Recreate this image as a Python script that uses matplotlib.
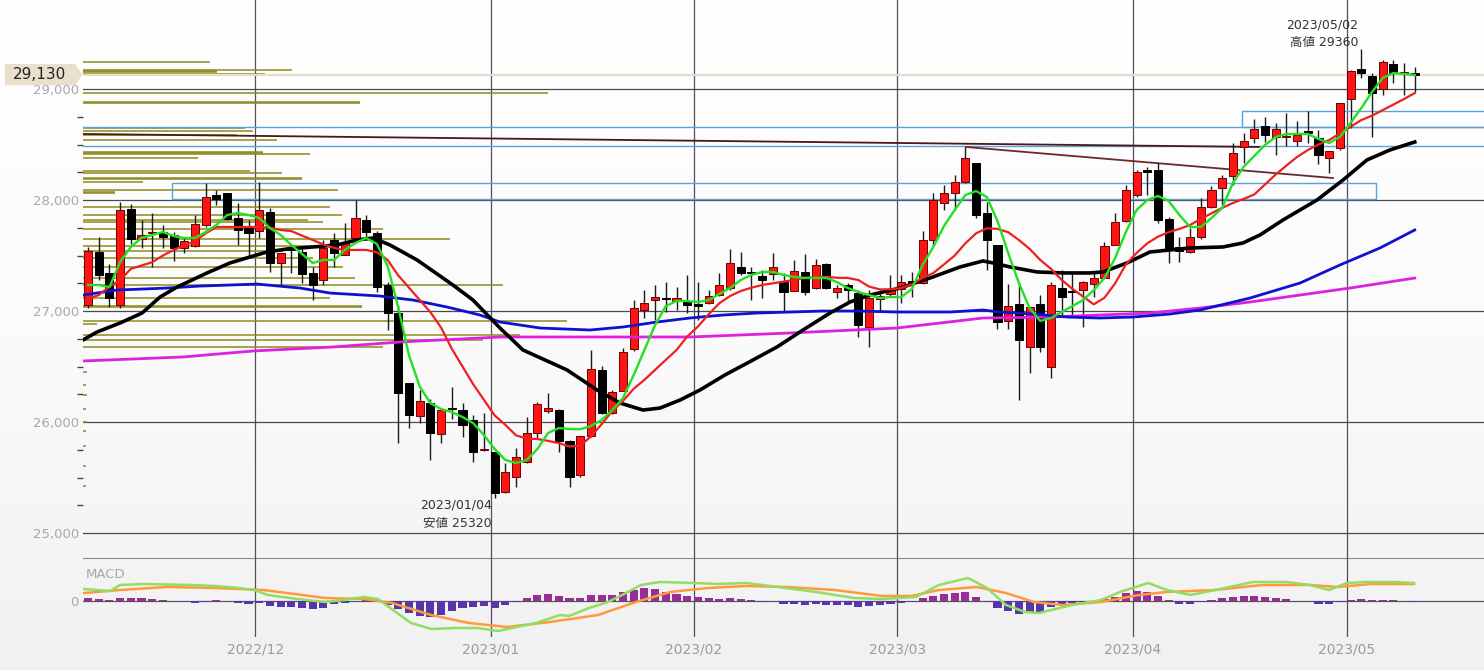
import numpy as np
import matplotlib.pyplot as plt
from matplotlib.patches import Rectangle, Polygon
from matplotlib.colors import LinearSegmentedColormap

# daily candles, 2022/11/08 .. 2023/05/12 (index = trading day)
opens = [27054, 27534, 27345, 27054, 27919, 27649, 27703, 27712, 27685, 27568,
         27586, 27775, 28045, 28063, 27838, 27748, 27721, 27892, 27432, 27568,
         27532, 27342, 27279, 27640, 27505, 27658, 27820, 27703, 27234, 26982,
         26351, 26054, 26171, 25892, 26126, 26108, 26018, 25748, 25730, 25369,
         25505, 25640, 25901, 26099, 26108, 25829, 25523, 25874, 26468, 26081,
         26279, 26658, 27009, 27099, 27117, 27090, 27081, 27063, 27072, 27144,
         27207, 27396, 27351, 27315, 27333, 27261, 27180, 27351, 27207, 27423,
         27171, 27234, 27162, 26856, 27108, 27153, 27198, 27270, 27252, 27640,
         27973, 28063, 28162, 28333, 27883, 27595, 26910, 27063, 26676, 27063,
         26495, 27207, 27180, 27189, 27243, 27297, 27595, 27811, 28045, 28270,
         28270, 27829, 27577, 27532, 27667, 27937, 28108, 28216, 28477, 28558,
         28667, 28568, 28568, 28531, 28622, 28559, 28378, 28468, 28910, 29180,
         29117, 29000, 29225, 29144, 29144]
highs = [27577, 27667, 27423, 27982, 27964, 27820, 27883, 27775, 27712, 27658,
         27865, 28153, 28090, 28063, 27973, 27820, 28160, 27928, 27523, 27586,
         27568, 27396, 27640, 27703, 27793, 28000, 27865, 27720, 27260, 27054,
         26351, 26288, 26207, 26126, 26315, 26171, 26063, 26081, 25730, 25631,
         25766, 26045, 26180, 26261, 26117, 25838, 25874, 26649, 26505, 26288,
         26667, 27099, 27189, 27234, 27261, 27216, 27324, 27261, 27189, 27342,
         27559, 27532, 27396, 27369, 27523, 27342, 27459, 27514, 27468, 27432,
         27234, 27252, 27189, 27189, 27189, 27324, 27324, 27351, 27721, 28063,
         28135, 28225, 28477, 28333, 27982, 27595, 27243, 27252, 27036, 27144,
         27261, 27369, 27342, 27270, 27342, 27622, 27883, 28135, 28270, 28297,
         28333, 27847, 27667, 27748, 28018, 28126, 28225, 28513, 28604, 28730,
         28748, 28694, 28784, 28712, 28802, 28631, 28441, 28874, 29171, 29360,
         29144, 29261, 29261, 29234, 29198]
lows = [27030, 27279, 27040, 27030, 27604, 27568, 27396, 27568, 27450, 27523,
        27580, 27757, 27955, 27820, 27595, 27487, 27658, 27351, 27234, 27342,
        27252, 27099, 27234, 27396, 27505, 27650, 27640, 27171, 26829, 25811,
        25946, 25991, 25658, 25811, 26027, 25865, 25640, 25739, 25320, 25360,
        25414, 25631, 25856, 26081, 25730, 25414, 25505, 25865, 26072, 26072,
        26279, 26640, 26937, 26919, 26991, 27009, 26982, 26919, 27063, 27135,
        27189, 27324, 27099, 27117, 27279, 26991, 27180, 27144, 27198, 27198,
        27117, 27081, 26766, 26676, 27000, 27126, 27072, 27126, 27243, 27595,
        27910, 27910, 28153, 27838, 27369, 26838, 26838, 26198, 26441, 26631,
        26396, 26964, 26946, 26856, 27126, 27297, 27595, 27802, 28027, 28045,
        27793, 27432, 27441, 27523, 27649, 27928, 27955, 28135, 28333, 28513,
        28523, 28405, 28487, 28487, 28513, 28324, 28243, 28450, 28649, 29099,
        28568, 28946, 29054, 28946, 28973]
closes = [27541, 27324, 27117, 27910, 27649, 27685, 27712, 27667, 27568, 27631,
          27784, 28027, 28009, 27829, 27730, 27703, 27910, 27432, 27523, 27550,
          27333, 27234, 27568, 27523, 27613, 27838, 27712, 27216, 26982, 26261,
          26063, 26189, 25901, 26108, 26117, 25973, 25730, 25748, 25360, 25550,
          25685, 25901, 26162, 26126, 25829, 25505, 25874, 26477, 26081, 26270,
          26631, 27027, 27072, 27126, 27108, 27117, 27054, 27045, 27135, 27234,
          27432, 27342, 27342, 27279, 27396, 27171, 27360, 27171, 27414, 27207,
          27207, 27189, 26874, 27117, 27135, 27198, 27261, 27252, 27640, 28000,
          28063, 28162, 28378, 27865, 27640, 26901, 27045, 26739, 27036, 26676,
          27234, 27126, 27171, 27261, 27297, 27586, 27802, 28090, 28252, 28252,
          27820, 27568, 27541, 27667, 27937, 28090, 28198, 28423, 28531, 28640,
          28586, 28640, 28577, 28586, 28604, 28405, 28441, 28874, 29162, 29144,
          28964, 29243, 29144, 29153, 29130]

# moving averages
ma_green = [27234, 27234, 27216, 27442, 27577, 27658, 27685, 27712, 27676, 27658,
            27658, 27712, 27775, 27865, 27883, 27865, 27838, 27748, 27685, 27595,
            27514, 27433, 27460, 27460, 27550, 27613, 27658, 27604, 27406, 27030,
            26600, 26320, 26170, 26117, 26090, 26045, 25990, 25883, 25757, 25658,
            25631, 25658, 25757, 25901, 25946, 25937, 25935, 25964, 26018, 26108,
            26216, 26424, 26649, 26874, 27045, 27090, 27090, 27081, 27099, 27153,
            27207, 27279, 27325, 27352, 27352, 27325, 27307, 27298, 27298, 27298,
            27261, 27207, 27171, 27144, 27117, 27126, 27126, 27198, 27415, 27577,
            27766, 27910, 28045, 28081, 28027, 27811, 27523, 27252, 27027, 26910,
            26937, 26991, 27045, 27099, 27189, 27298, 27478, 27712, 27910, 28000,
            28036, 27991, 27865, 27757, 27757, 27838, 27928, 28153, 28298, 28397,
            28496, 28568, 28595, 28595, 28595, 28550, 28514, 28568, 28694, 28829,
            28973, 29099, 29144, 29135, 29126]
ma_red = [27110, 27144, 27220, 27279, 27380, 27410, 27440, 27500, 27550, 27590,
          27630, 27700, 27757, 27757, 27757, 27757, 27757, 27750, 27730, 27720,
          27680, 27640, 27600, 27568, 27550, 27550, 27550, 27530, 27460, 27320,
          27210, 27099, 26990, 26850, 26660, 26500, 26340, 26200, 26060, 25975,
          25880, 25850, 25847, 25830, 25810, 25780, 25785, 25870, 25980, 26100,
          26190, 26300, 26380, 26470, 26560, 26649, 26770, 26860, 26970, 27070,
          27135, 27180, 27210, 27234, 27250, 27265, 27280, 27298, 27305, 27307,
          27300, 27298, 27279, 27220, 27195, 27195, 27207, 27240, 27300, 27342,
          27420, 27500, 27610, 27700, 27745, 27740, 27710, 27640, 27560, 27460,
          27380, 27280, 27200, 27130, 27060, 27120, 27250, 27420, 27523, 27610,
          27670, 27710, 27740, 27775, 27830, 27880, 27930, 27973, 28010, 28050,
          28140, 28230, 28310, 28388, 28450, 28500, 28540, 28600, 28660, 28720,
          28760, 28810, 28860, 28910, 28964]
ma_black_x = [-0.47, 0.84, 2.99, 5.05, 6.73, 8.32, 11.12, 13.27, 15.14, 16.73, 18.6,
              21.03, 23.27, 25.14, 26.64, 28.22, 30.75, 34.11, 35.98, 38.5, 40.65,
              44.77, 47.57, 49.72, 51.87, 53.46, 55.33, 57.2, 59.53, 62.15, 64.39,
              66.82, 69.35, 71.21, 73.08, 75.89, 78.97, 81.5, 83.64, 84.58, 86.17,
              88.69, 91.12, 93.64, 94.86, 97.1, 99.25, 102.99, 106.07, 107.94,
              109.53, 111.68, 114.86, 117.29, 119.53, 121.68, 124.0]
ma_black_y = [26739, 26811, 26892, 26982, 27126, 27216, 27343, 27433, 27487, 27532, 27559,
              27577, 27595, 27640, 27658, 27595, 27460, 27234, 27099, 26847, 26649,
              26469, 26289, 26171, 26108, 26126, 26198, 26289, 26424, 26559, 26676,
              26829, 26982, 27081, 27144, 27207, 27307, 27397, 27451, 27433, 27397,
              27352, 27343, 27343, 27352, 27433, 27532, 27568, 27577, 27613,
              27685, 27820, 28000, 28180, 28361, 28451, 28523]
ma_blue_x = [-0.47, 2.71, 7.38, 10.47, 15.79, 19.81, 22.62, 27.29, 30.37, 33.55, 36.64,
             38.5, 42.24, 46.92, 50.0, 53.18, 56.26, 59.35, 62.52, 65.61, 68.69, 71.87,
             75.61, 80.56, 83.64, 85.23, 88.32, 91.5, 94.58, 97.66, 101.12, 103.93,
             108.6, 113.27, 117.01, 120.75, 124.0]
ma_blue_y = [27144, 27189, 27207, 27225, 27243, 27207, 27162, 27135, 27099, 27036, 26964,
             26901, 26847, 26829, 26856, 26901, 26937, 26964, 26982, 26991, 27000, 27000,
             26991, 26991, 27009, 26991, 26973, 26946, 26937, 26946, 26973, 27009,
             27117, 27252, 27415, 27568, 27730]
ma_pink_x = [-0.47, 8.88, 15.42, 22.9, 29.16, 38.5, 46.92, 56.26, 65.61, 75.61, 83.64,
             89.91, 99.25, 103.93, 108.6, 113.27, 117.94, 124.0]
ma_pink_y = [26550, 26586, 26640, 26676, 26721, 26766, 26766, 26766, 26802, 26847, 26937,
             26946, 26982, 27027, 27081, 27144, 27207, 27297]

# MACD panel
macd_x = [-0.37, 2.06, 2.99, 5.23, 9.63, 11.87, 14.11, 15.51, 16.82, 19.53, 22.15, 23.93,
          25.79, 27.1, 28.88, 30.19, 32.06, 34.3, 36.45, 38.32, 39.63, 41.87, 44.11,
          44.95, 46.82, 48.6, 49.91, 51.68, 53.46, 56.64, 58.88, 61.5, 64.49, 68.04,
          71.59, 74.21, 77.38, 79.53, 82.24, 84.02, 85.79, 87.57, 88.88, 91.96, 94.67,
          96.45, 99.07, 100.84, 103.08, 105.33, 108.88, 111.96, 114.21, 115.98, 117.66,
          119.44, 122.15, 123.93]
macd_v = [204, 170, 272, 289, 272, 255, 221, 187, 102, 34, -17, 17,
          68, 34, -204, -374, -476, -459, -459, -510, -459, -374, -238,
          -255, -119, -17, 102, 272, 323, 306, 289, 306, 238, 153,
          51, 34, 68, 272, 391, 221, -68, -187, -204, -68, 17,
          153, 306, 187, 102, 187, 323, 323, 272, 187, 306,
          323, 323, 306]
signal_x = [-0.37, 2.99, 7.38, 11.87, 16.36, 18.6, 22.15, 25.79, 28.41, 32.06, 35.61,
            39.16, 43.18, 47.66, 51.21, 54.39, 57.94, 61.5, 65.33, 69.81, 74.21, 76.92,
            79.53, 83.08, 85.79, 88.41, 91.12, 94.67, 98.22, 100.84, 105.33, 109.72,
            114.21, 116.82, 119.91, 123.93]
signal_v = [136, 187, 238, 221, 187, 136, 51, 34, -34, -238, -374,
            -442, -357, -238, -17, 153, 221, 255, 238, 187, 85, 85,
            187, 238, 136, -17, -68, -17, 102, 153, 187, 272,
            272, 238, 289, 289]
hist = [51, 34, 17, 51, 51, 51, 34, 17, 0, -17,
        -34, -17, 17, 0, -34, -51, -34, -85, -102, -102,
        -119, -136, -119, -51, -34, 0, 17, -17, -68, -136,
        -204, -255, -272, -238, -170, -119, -102, -85, -119, -68,
        -17, 51, 102, 119, 85, 51, 51, 102, 102, 102,
        153, 187, 221, 204, 153, 119, 85, 68, 51, 34,
        51, 34, 17, -17, 0, -51, -51, -68, -51, -68,
        -68, -68, -102, -85, -68, -51, -34, -17, 51, 85,
        119, 136, 153, 68, -17, -119, -170, -221, -187, -204,
        -102, -51, -34, -17, 0, 34, 68, 136, 170, 153,
        85, 17, -51, -51, -17, 17, 51, 68, 85, 85,
        68, 51, 34, 0, 0, -51, -51, -17, 17, 34,
        17, 17, 17, 0, -17]

# volume by price (left side)
vp_price = [29243, 29171, 29162, 29153, 29135, 28964, 28883, 28874, 28649, 28622,
            28586, 28541, 28433, 28424, 28415, 28379, 28261, 28243, 28198, 28189,
            28162, 28090, 28072, 28063, 27937, 27865, 27820, 27802, 27739, 27649,
            27586, 27541, 27478, 27397, 27298, 27234, 27117, 27045, 27036, 26910,
            26883, 26784, 26739, 26676, 26450, 26330, 26240, 26120, 26000, 25920,
            25780, 25600, 25420]
vp_volume = [127, 209, 134, 134, 182, 465, 277, 277, 162, 170,
             154, 194, 180, 180, 227, 115, 167, 199, 219, 219,
             60, 255, 32, 32, 247, 259, 225, 240, 300, 367,
             250, 200, 230, 260, 272, 420, 247, 279, 279, 484,
             14, 437, 400, 300, 4, 3, 4, 3, 4, 3,
             3, 3, 3]

price_levels = [25000, 26000, 27000, 28000, 29000]
minor_levels = [25250, 25500, 25750, 26250, 26500, 26750, 27250, 27500, 27750,
                28250, 28500, 28750]
month_labels = ['2022/12', '2023/01', '2023/02', '2023/03', '2023/04', '2023/05']
month_start = [16, 38, 57, 76, 98, 118]
last_price = 29130
support_lines = [28660, 28488]
zones = [(107.85, 28658, 28802), (7.85, 28009, 28153)]   # start index, low, high
zone_end = [131, 120.4]
trend_lines = [((-0.47, 28595), (109.44, 28478)), ((82.06, 28478), (116.36, 28198))]

W, H = 1484, 670
fig = plt.figure(figsize=(W / 100, H / 100), dpi=100)

bg = fig.add_axes([0, 0, 1, 1], zorder=-10)
bg.imshow(np.linspace(0, 1, 256).reshape(-1, 1), aspect='auto', extent=[0, 1, 0, 1],
          cmap=LinearSegmentedColormap.from_list('bg', ['#ffffff', '#fbfbfb', '#f1f1f1']))
bg.axis('off')

ax = fig.add_axes([83 / W, (H - 558) / H, (W - 83) / W, 558 / H])
mx = fig.add_axes([83 / W, (H - 637) / H, (W - 83) / W, 79 / H], sharex=ax)
for a in (ax, mx):
    a.set_facecolor('none')
    for s in a.spines.values():
        s.set_visible(False)
ax.spines['bottom'].set_visible(True)
ax.spines['bottom'].set_color('#8c8c8c')

ax.set_xlim(-0.47, 130.47)
ax.set_ylim(24775, 29802)
mx.set_ylim(-612, 731)

grid_x = np.array(month_start) - 0.37
for a in (ax, mx):
    for gx in grid_x:
        a.axvline(gx, color='#50505e', lw=0.9, zorder=1)
for p in price_levels:
    ax.axhline(p, color='#4a4a4a', lw=0.9, zorder=1)
mx.axhline(0, color='#555555', lw=0.9, zorder=1)

# volume profile
ax.hlines(vp_price, 0, np.array(vp_volume) / (W - 83), transform=ax.get_yaxis_transform(),
          color='#8c8a1e', lw=1.1, zorder=2)

# drawn objects
ax.axhline(last_price, color='#e4dfcc', lw=1.6, zorder=2)
for p in support_lines:
    ax.axhline(p, color='#5aa2dc', lw=1.0, zorder=2)
for (x0, lo, hi), x1 in zip(zones, zone_end):
    ax.add_patch(Rectangle((x0, lo), x1 - x0, hi - lo, fill=False, ec='#5aa2dc', lw=1.0, zorder=2))
ax.plot(*zip(*trend_lines[0]), color='#4a1818', lw=1.3, zorder=3)
ax.plot(*zip(*trend_lines[1]), color='#6a2a2a', lw=1.3, zorder=3)

# candles
o, h, l, c = map(np.array, (opens, highs, lows, closes))
idx = np.arange(len(c))
up = c >= o
lo_b = np.minimum(o, c)
hgt = np.maximum(np.abs(c - o), 10)
ax.vlines(idx, l, h, color='#1a1a1a', lw=1.0, zorder=4)
ax.bar(idx[up], hgt[up], bottom=lo_b[up], width=0.76, color='#ff1414', edgecolor='#6a0000',
       lw=0.7, zorder=5)
ax.bar(idx[~up], hgt[~up], bottom=lo_b[~up], width=0.76, color='#000000', edgecolor='#000000',
       lw=0.7, zorder=5)

ax.plot(ma_pink_x, ma_pink_y, color='#e020e0', lw=2.0, zorder=6)
ax.plot(ma_blue_x, ma_blue_y, color='#1010d0', lw=2.0, zorder=6)
ax.plot(ma_black_x, ma_black_y, color='#000000', lw=2.6, zorder=6)
ax.plot(idx, ma_red, color='#ee2020', lw=1.6, zorder=7)
ax.plot(idx, ma_green, color='#22e022', lw=1.7, zorder=7)

jp = ['DejaVu Sans', 'Noto Sans CJK JP']
hi_i = int(np.argmax(h))
lo_i = int(np.argmin(l))
ax.annotate(f'2023/05/02\n高値 {h[hi_i]}', xy=(hi_i, h[hi_i]), xytext=(-2, 0),
            textcoords='offset points', ha='right', va='bottom', multialignment='right',
            fontsize=9, color='#333333', family=jp, linespacing=1.5, zorder=9)
ax.annotate(f'2023/01/04\n安値 {l[lo_i]}', xy=(lo_i, l[lo_i]), xytext=(-2, -1),
            textcoords='offset points', ha='right', va='top', multialignment='right',
            fontsize=9, color='#333333', family=jp, linespacing=1.5, zorder=9)

# current price tag
ytf = ax.get_yaxis_transform()
tag = Polygon([(-0.0557, last_price - 95), (-0.0055, last_price - 95), (-0.0005, last_price),
               (-0.0055, last_price + 95), (-0.0557, last_price + 95)], closed=True,
              transform=ytf, fc='#e9dfca', ec='none', clip_on=False, zorder=10)
ax.add_patch(tag)
ax.text(-0.0312, last_price, f'{last_price:,}', transform=ytf, ha='center', va='center',
        fontsize=11, color='#222222', clip_on=False, zorder=11)

ax.set_yticks(price_levels)
ax.set_yticklabels([f'{p:,}' for p in price_levels])
ax.set_yticks(minor_levels, minor=True)
ax.tick_params(axis='y', which='major', length=0, pad=3, labelcolor='#a8a8a8', labelsize=9.5)
ax.tick_params(axis='y', which='minor', length=4, width=1, color='#444444')
ax.tick_params(axis='x', which='both', length=0, labelbottom=False)

# MACD
hist = np.array(hist)
mx.bar(idx, hist, width=0.76, color=np.where(hist >= 0, '#9a2c9a', '#5636aa'), zorder=3)
mx.plot(signal_x, signal_v, color='#ff9a3c', lw=1.8, zorder=4)
mx.plot(macd_x, macd_v, color='#92dd62', lw=1.8, zorder=4)
mx.text(0.002, 0.785, 'MACD', transform=mx.transAxes, ha='left', va='center',
        fontsize=9.5, color='#a8a8a8')
mx.set_yticks([0])
mx.set_yticklabels(['0'])
mx.tick_params(axis='y', length=0, pad=3, labelcolor='#a8a8a8', labelsize=9.5)
mx.set_xticks(grid_x)
mx.set_xticklabels(month_labels)
mx.tick_params(axis='x', length=0, pad=4, labelcolor='#9c9c9c', labelsize=10)

fig.savefig('out.png', dpi=100)
